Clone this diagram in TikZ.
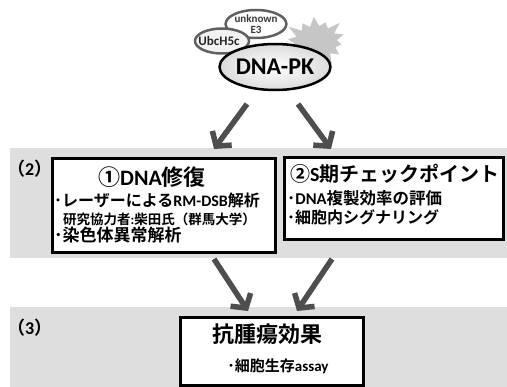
\documentclass[tikz,border=0pt]{standalone}
\usepackage{fontspec}
\setmainfont{Noto Sans CJK JP}[BoldFont={Noto Sans CJK JP Bold}]
\newfontfamily\lat{Carlito}
\usetikzlibrary{arrows.meta,shapes.symbols,shapes.geometric,shadows}
\definecolor{band}{RGB}{222,222,222}
\definecolor{arr}{RGB}{78,78,78}
\newcommand{\fs}[1]{\fontsize{#1}{#1}\selectfont}
\tikzset{
  mainbox/.style={draw=black,line width=3.2pt,fill=white,
    drop shadow={shadow xshift=1.5pt,shadow yshift=-1.5pt,fill=gray,opacity=0.6}},
  bigarrow/.style={draw=arr,line width=5.5pt,-{Straight Barb[length=10pt,width=24pt,line width=5.5pt]}},
  txt/.style={inner sep=0pt,anchor=west,font=\bfseries},
  lab/.style={inner sep=0pt,anchor=west,font=\bfseries\fs{18}},
}
\begin{document}
\begin{tikzpicture}[x=1pt,y=-1pt]
\useasboundingbox (0,0) rectangle (507,387);
% bands
\fill[band] (10,148) rectangle (507,258);
\fill[band] (10,307) rectangle (507,387);
\node[lab] (l2) at (7,169) {（{\lat 2}）};
\node[lab] (l3) at (7,328) {（{\lat 3}）};
% starburst
\node[starburst,starburst points=14,starburst point height=13pt,fill=gray!45,draw=none,minimum width=68pt,minimum height=58pt,rotate=5] (sb) at (316,42) {};
% ellipses
\node[ellipse,draw=gray!75!black,line width=2.5pt,fill=white,minimum width=55pt,minimum height=28pt,inner sep=0pt,font=\lat\bfseries\fs{11},text=gray!45!black,align=center] (e3) at (256,24) {unknown\\[0pt]E3};
\node[ellipse,draw=gray!75!black,line width=2.5pt,fill=gray!10,minimum width=54pt,minimum height=25pt,inner sep=0pt,font=\lat\bfseries\fs{13},text=gray!30!black] (ubc) at (222,41) {\hspace*{-6pt}UbcH5c};
\node[ellipse,draw=black,line width=2.5pt,inner color=white,outer color=gray!28,minimum width=92pt,minimum height=46pt,inner sep=0pt,font=\lat\bfseries\fs{24}] (pk) at (275,67) {DNA-PK};
% boxes
\node[mainbox,minimum width=223pt,minimum height=94pt,anchor=north west] (b1) at (51,157) {};
\node[mainbox,minimum width=219pt,minimum height=82pt,anchor=north west] (b2) at (283,156) {};
\node[mainbox,minimum width=183pt,minimum height=68pt,anchor=north west] (b3) at (179,316) {};
% box1 text
\node[txt,anchor=center,font=\bfseries\fs{22}] (t11) at (152,177) {①{\lat DNA}修復};
\node[txt,font=\bfseries\fs{16}] (t12) at (54,200) {･レーザーによる{\lat RM-DSB}解析};
\node[txt,font=\bfseries\fs{13.5}] (t13) at (63,219) {研究協力者{\lat :}柴田氏（群馬大学）};
\node[txt,font=\bfseries\fs{17}] (t14) at (54,235.5) {･染色体異常解析};
% box2 text
\node[txt,font=\bfseries\fs{20}] (t21) at (290,174) {②{\lat S}期チェックポイント};
\node[txt,font=\bfseries\fs{16.5}] (t22) at (287,198.5) {･{\lat DNA}複製効率の評価};
\node[txt,font=\bfseries\fs{16}] (t23) at (287,217) {･細胞内シグナリング};
% box3 text
\node[txt,anchor=center,font=\bfseries\fs{22}] (t31) at (267,334) {抗腫瘍効果};
\node[txt,anchor=center,font=\bfseries\fs{15}] (t32) at (278,366) {･細胞生存{\lat assay}};
% arrows
\coordinate (a1s) at (247,104);
\coordinate (a1e) at (214,149);
\coordinate (a2s) at (298,104);
\coordinate (a2e) at (331,149);
\coordinate (a3s) at (214,259);
\coordinate (a3e) at (248,311);
\coordinate (a4s) at (332,259);
\coordinate (a4e) at (297,311);
\draw[bigarrow] (a1s) -- (a1e);
\draw[bigarrow] (a2s) -- (a2e);
\draw[bigarrow] (a3s) -- (a3e);
\draw[bigarrow] (a4s) -- (a4e);
\end{tikzpicture}
\end{document}
